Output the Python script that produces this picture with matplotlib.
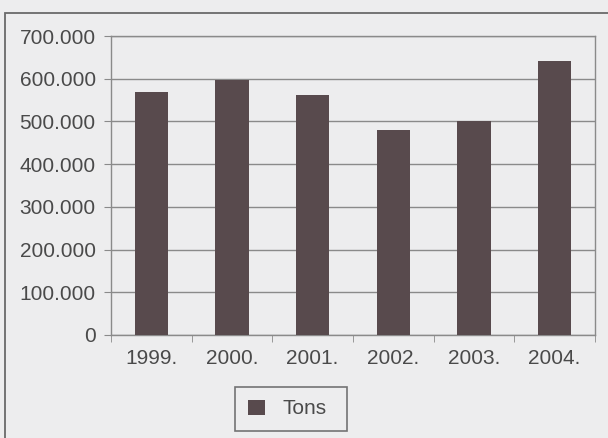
import matplotlib.pyplot as plt
import matplotlib.patches as mpatches
import numpy as np

years = ["1999.", "2000.", "2001.", "2002.", "2003.", "2004."]
tons = [570000, 598000, 562000, 480000, 502000, 642000]
yticks = [0, 100000, 200000, 300000, 400000, 500000, 600000, 700000]
ytick_labels = ["0", "100.000", "200.000", "300.000", "400.000", "500.000", "600.000", "700.000"]

paper = "#ededee"
bar_col = "#584a4d"
txt = "#4a4a4a"
line = "#8a8a8a"

plt.rcParams['font.family'] = ['Liberation Sans', 'DejaVu Sans']

fig = plt.figure(figsize=(6.08, 4.38), dpi=100, facecolor=paper)
ax = fig.add_axes([111/608, 1-335/438, 484/608, 299/438])
ax.set_facecolor(paper)

# outer frame of the chart object (runs off the page on right/bottom)
fig.patches.append(mpatches.Rectangle((5/608, -0.2), 1.2, 1-13/438+0.2,
                                      transform=fig.transFigure, fill=False,
                                      edgecolor="#6a6a6a", linewidth=1.3))

x = np.arange(len(years))
ax.bar(x, tons, width=0.41, color=bar_col, label="Tons", zorder=3)

ax.set_xlim(-0.5, len(years)-0.5)
ax.set_ylim(0, 700000)
ax.set_yticks(yticks)
ax.set_yticklabels(ytick_labels)
ax.set_xticks(x)
ax.set_xticklabels(years)
ax.set_xticks(np.arange(-0.5, len(years)), minor=True)
ax.tick_params(axis='x', which='major', length=0, pad=10, labelsize=15, labelcolor=txt)
ax.tick_params(axis='x', which='minor', length=5, direction='out', color=line)
ax.tick_params(axis='y', length=5, direction='out', color=line, labelsize=15, labelcolor=txt, pad=6)

ax.grid(axis='y', color=line, linewidth=1, zorder=0)
for s in ax.spines.values():
    s.set_color(line)
    s.set_linewidth(1)

leg = fig.legend(loc='center', bbox_to_anchor=(235/608, 1-431/438, 112/608, 44/438),
                 bbox_transform=fig.transFigure, mode='expand', fontsize=15, frameon=True,
                 fancybox=False, handlelength=0.8, handleheight=0.75,
                 handletextpad=0.85, borderpad=0.62, borderaxespad=0)
leg.get_frame().set_edgecolor("#555555")
leg.get_frame().set_facecolor(paper)
leg.get_frame().set_linewidth(1.2)
for t in leg.get_texts():
    t.set_color(txt)

fig.savefig("out.png", dpi=100, facecolor=paper)
